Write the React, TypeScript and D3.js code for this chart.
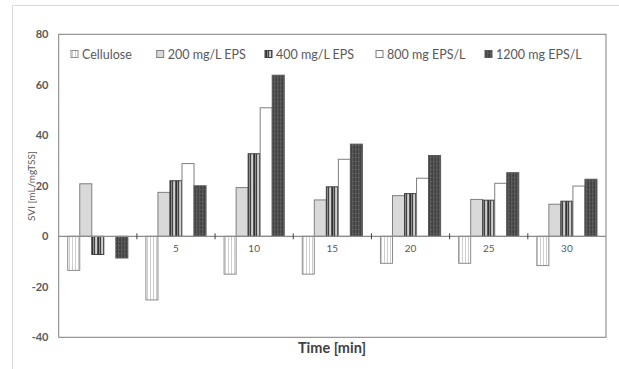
import React from "react";
import * as d3 from "d3";

const categories = ["0", "5", "10", "15", "20", "25", "30"];
const seriesNames = ["Cellulose", "200 mg/L EPS", "400 mg/L EPS", "800 mg EPS/L", "1200 mg EPS/L"];
const cellulose = [-13.5, -25.2, -15, -15, -10.7, -10.7, -11.6];
const eps200 = [20.8, 17.4, 19.3, 14.4, 16.1, 14.6, 12.7];
const eps400 = [-7.2, 22, 32.7, 19.6, 16.9, 14.3, 13.9];
const eps800 = [0, 28.8, 50.9, 30.5, 23, 21, 19.9];
const eps1200 = [-8.6, 20, 63.8, 36.5, 32, 25.2, 22.6];
const yTicks = [-40, -20, 0, 20, 40, 60, 80];

const seriesValues = [cellulose, eps200, eps400, eps800, eps1200];
const fills = ["url(#pCell)", "#d9d9d9", "url(#p400)", "#ffffff", "url(#p1200)"];
const strokes = ["#8c8c8c", "#7f7f7f", "#404040", "#7f7f7f", "#595959"];

const W = 619, H = 369;
const L = 58.7, R = 606, T = 34.3, B = 337.3;
const font = "Lato, 'Open Sans', sans-serif";
const txt = "#595959";

export default function App() {
  const y = d3.scaleLinear().domain([-40, 80]).range([B, T]);
  const x0 = d3.scaleBand().domain(categories).range([L, R]).paddingInner(0).paddingOuter(0);
  const bw = x0.bandwidth();
  const barW = bw / 6.5;
  const x1 = d3.scaleBand().domain(seriesNames).range([barW * 0.75, barW * 5.75]).padding(0);
  const legendX = [71, 156.7, 265, 376, 485];

  return (
    <svg width={W} height={H} style={{ position: "absolute", left: 0, top: 0 }}>
      <defs>
        <pattern id="pCell" width="3" height="4" patternUnits="userSpaceOnUse">
          <rect width="3" height="4" fill="#ffffff" />
          <rect x="0" width="1" height="4" fill="#cfcfcf" />
        </pattern>
        <pattern id="p400" width="6" height="4" patternUnits="userSpaceOnUse">
          <rect width="6" height="4" fill="#a6a6a6" />
          <rect x="0" width="1" height="4" fill="#d0d0d0" />
          <rect x="1" width="1" height="4" fill="#595959" />
          <rect x="2" width="1" height="4" fill="#303030" />
          <rect x="3" width="1" height="4" fill="#8c8c8c" />
          <rect x="4" width="1" height="4" fill="#404040" />
          <rect x="5" width="1" height="4" fill="#bfbfbf" />
        </pattern>
        <pattern id="p1200" width="3" height="4" patternUnits="userSpaceOnUse">
          <rect width="3" height="4" fill="#444444" />
          <rect x="1" y="0" width="1" height="4" fill="#5c5c5c" />
          <rect x="2" y="1" width="1" height="1" fill="#666666" />
        </pattern>
      </defs>
      <rect x={0} y={0} width={W} height={H} fill="#ffffff" />
      {/* outer chart border */}
      <line x1={12.5} y1={5.5} x2={W} y2={5.5} stroke="#d9d9d9" />
      <line x1={12.5} y1={5.5} x2={12.5} y2={H} stroke="#d9d9d9" />
      {/* plot border */}
      <rect x={L} y={T} width={R - L} height={B - T} fill="none" stroke="#7f7f7f" strokeWidth={1} />
      {/* category labels (drawn under bars) */}
      {categories.map((c) => (
        <text key={"c" + c} x={(x0(c) as number) + bw / 2} y={y(0) + 16} textAnchor="middle" fontFamily={font} fontSize={10} fill={txt}>
          {c}
        </text>
      ))}
      {/* bars */}
      {seriesValues.map((vals, si) =>
        vals.map((v, ci) => {
          if (v === 0) return null;
          const xx = (x0(categories[ci]) as number) + (x1(seriesNames[si]) as number);
          const y0 = y(0), yv = y(v);
          return (
            <rect
              key={si + "-" + ci}
              x={xx}
              y={Math.min(y0, yv)}
              width={x1.bandwidth()}
              height={Math.abs(yv - y0)}
              fill={fills[si]}
              stroke={strokes[si]}
              strokeWidth={1}
            />
          );
        })
      )}
      {/* zero axis */}
      <line x1={L} x2={R} y1={y(0)} y2={y(0)} stroke="#8c8c8c" strokeWidth={1.2} />
      {categories.slice(1).map((c) => (
        <line key={"t" + c} x1={x0(c) as number} x2={x0(c) as number} y1={y(0) - 3} y2={y(0) + 3} stroke="#404040" />
      ))}
      {/* y ticks */}
      {yTicks.map((t) => (
        <text key={"y" + t} x={48.5} y={y(t) + 4} textAnchor="end" fontFamily={font} fontSize={11} fontWeight="bold" fill={txt}>
          {t}
        </text>
      ))}
      {/* legend */}
      {seriesNames.map((s, i) => (
        <g key={"l" + s}>
          <rect x={legendX[i]} y={50.5} width={7} height={7} fill={fills[i]} stroke={strokes[i]} strokeWidth={1} />
          <text x={legendX[i] + 11} y={58.5} fontFamily={font} fontSize={12.5} fill={txt}>
            {s}
          </text>
        </g>
      ))}
      {/* axis titles */}
      <text x={332} y={353} textAnchor="middle" fontFamily={font} fontSize={14.5} fontWeight="bold" fill="#404040">
        Time [min]
      </text>
      <text transform={`translate(35,186) rotate(-90)`} textAnchor="middle" fontFamily={font} fontSize={10} fill={txt}>
        SVI [mL/mgTSS]
      </text>
    </svg>
  );
}
